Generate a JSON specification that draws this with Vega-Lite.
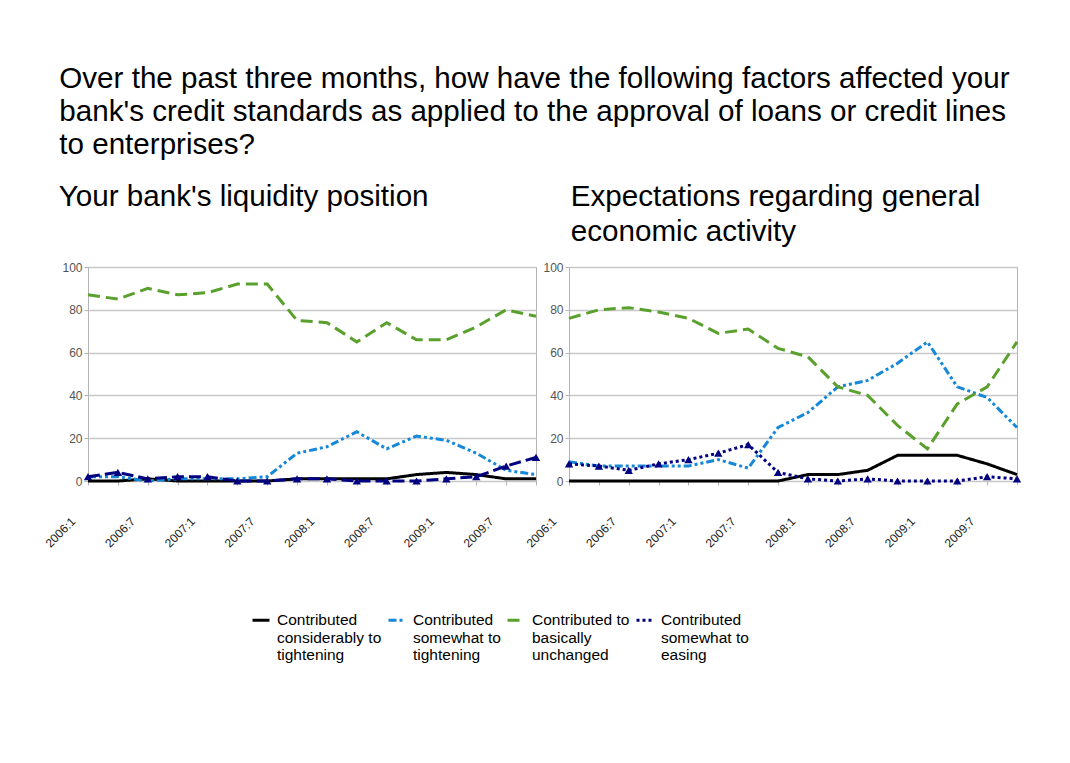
{
  "$schema": "https://vega.github.io/schema/vega-lite/v6.json",
  "background": "white",
  "padding": {"left": 42, "top": 64, "right": 30, "bottom": 20},
  "title": {
    "text": ["Over the past three months, how have the following factors affected your", "bank's credit standards as applied to the approval of loans or credit lines", "to enterprises?"],
    "anchor": "start",
    "fontSize": 29.6,
    "lineHeight": 33,
    "offset": 21,
    "dx": 17
  },
  "datasets": {
    "survey": [
      {"panel": "L", "period": "2006:1", "cons_tight": 0, "some_tight": 2, "unchanged": 87, "some_easing": 2},
      {"panel": "L", "period": "2006:4", "cons_tight": 0, "some_tight": 2, "unchanged": 85, "some_easing": 4},
      {"panel": "L", "period": "2006:7", "cons_tight": 1, "some_tight": 0, "unchanged": 90, "some_easing": 1},
      {"panel": "L", "period": "2006:10", "cons_tight": 0, "some_tight": 1, "unchanged": 87, "some_easing": 2},
      {"panel": "L", "period": "2007:1", "cons_tight": 0, "some_tight": 1, "unchanged": 88, "some_easing": 2},
      {"panel": "L", "period": "2007:4", "cons_tight": 0, "some_tight": 1, "unchanged": 92, "some_easing": 0},
      {"panel": "L", "period": "2007:7", "cons_tight": 0, "some_tight": 2, "unchanged": 92, "some_easing": 0},
      {"panel": "L", "period": "2007:10", "cons_tight": 1, "some_tight": 13, "unchanged": 75, "some_easing": 1},
      {"panel": "L", "period": "2008:1", "cons_tight": 1, "some_tight": 16, "unchanged": 74, "some_easing": 1},
      {"panel": "L", "period": "2008:4", "cons_tight": 1, "some_tight": 23, "unchanged": 65, "some_easing": 0},
      {"panel": "L", "period": "2008:7", "cons_tight": 1, "some_tight": 15, "unchanged": 74, "some_easing": 0},
      {"panel": "L", "period": "2008:10", "cons_tight": 3, "some_tight": 21, "unchanged": 66, "some_easing": 0},
      {"panel": "L", "period": "2009:1", "cons_tight": 4, "some_tight": 19, "unchanged": 66, "some_easing": 1},
      {"panel": "L", "period": "2009:4", "cons_tight": 3, "some_tight": 13, "unchanged": 72, "some_easing": 2},
      {"panel": "L", "period": "2009:7", "cons_tight": 1, "some_tight": 5, "unchanged": 80, "some_easing": 7},
      {"panel": "L", "period": "2009:10", "cons_tight": 1, "some_tight": 3, "unchanged": 77, "some_easing": 11},
      {"panel": "R", "period": "2006:1", "cons_tight": 0, "some_tight": 9, "unchanged": 76, "some_easing": 8},
      {"panel": "R", "period": "2006:4", "cons_tight": 0, "some_tight": 7, "unchanged": 80, "some_easing": 7},
      {"panel": "R", "period": "2006:7", "cons_tight": 0, "some_tight": 7, "unchanged": 81, "some_easing": 5},
      {"panel": "R", "period": "2006:10", "cons_tight": 0, "some_tight": 7, "unchanged": 79, "some_easing": 8},
      {"panel": "R", "period": "2007:1", "cons_tight": 0, "some_tight": 7, "unchanged": 76, "some_easing": 10},
      {"panel": "R", "period": "2007:4", "cons_tight": 0, "some_tight": 10, "unchanged": 69, "some_easing": 13},
      {"panel": "R", "period": "2007:7", "cons_tight": 0, "some_tight": 6, "unchanged": 71, "some_easing": 17},
      {"panel": "R", "period": "2007:10", "cons_tight": 0, "some_tight": 25, "unchanged": 62, "some_easing": 4},
      {"panel": "R", "period": "2008:1", "cons_tight": 3, "some_tight": 32, "unchanged": 58, "some_easing": 1},
      {"panel": "R", "period": "2008:4", "cons_tight": 3, "some_tight": 44, "unchanged": 44, "some_easing": 0},
      {"panel": "R", "period": "2008:7", "cons_tight": 5, "some_tight": 47, "unchanged": 40, "some_easing": 1},
      {"panel": "R", "period": "2008:10", "cons_tight": 12, "some_tight": 55, "unchanged": 26, "some_easing": 0},
      {"panel": "R", "period": "2009:1", "cons_tight": 12, "some_tight": 65, "unchanged": 15, "some_easing": 0},
      {"panel": "R", "period": "2009:4", "cons_tight": 12, "some_tight": 44, "unchanged": 36, "some_easing": 0},
      {"panel": "R", "period": "2009:7", "cons_tight": 8, "some_tight": 39, "unchanged": 44, "some_easing": 2},
      {"panel": "R", "period": "2009:10", "cons_tight": 3, "some_tight": 25, "unchanged": 65, "some_easing": 1}
    ]
  },
  "spacing": 33,
  "bounds": "flush",
  "resolve": {"scale": {"color": "shared", "strokeDash": "shared"}},
  "hconcat": [
    {
      "title": {"text": "Your bank's liquidity position", "dx": 16, "offset": 48},
      "width": 448,
      "height": 214,
      "data": {"name": "survey"},
      "transform": [
        {"filter": "datum.panel == 'L'"},
        {"fold": ["cons_tight", "some_tight", "unchanged", "some_easing"], "as": ["series", "value"]}
      ],
      "encoding": {
        "x": {"field": "period", "type": "ordinal", "sort": ["2006:1", "2006:4", "2006:7", "2006:10", "2007:1", "2007:4", "2007:7", "2007:10", "2008:1", "2008:4", "2008:7", "2008:10", "2009:1", "2009:4", "2009:7", "2009:10"], "scale": {"type": "point", "padding": 0}, "axis": {"labelExpr": "test(/:(1|7)$/, datum.value) ? datum.value : ''"}},
        "y": {"field": "value", "type": "quantitative", "scale": {"domain": [0, 100], "nice": false}},
        "color": {"field": "series", "type": "nominal", "scale": {"domain": ["cons_tight", "some_tight", "unchanged", "some_easing"], "range": ["#000000", "#1588d8", "#5aa02c", "#000080"]}}
      },
      "layer": [
        {
          "transform": [{"filter": "datum.series != 'some_easing'"}],
          "mark": {"type": "line", "strokeWidth": 3},
          "encoding": {"strokeDash": {"field": "series", "type": "nominal", "scale": {"domain": ["cons_tight", "some_tight", "unchanged", "some_easing"], "range": [[1, 0], [8, 3, 3, 3, 3, 3], [12, 6], [3, 3]]}}}
        },
        {
          "transform": [{"filter": "datum.series == 'some_easing'"}],
          "mark": {"type": "line", "strokeWidth": 3, "strokeDash": [12, 5]},
          "encoding": {}
        },
        {
          "transform": [{"filter": "datum.series == 'some_easing'"}],
          "mark": {"type": "point", "shape": "triangle-up", "filled": true, "size": 70, "opacity": 1},
          "encoding": {}
        }
      ]
    },
    {
      "title": {"text": ["Expectations regarding general", "economic activity"], "dx": 47, "offset": 13},
      "width": 448,
      "height": 214,
      "data": {"name": "survey"},
      "transform": [
        {"filter": "datum.panel == 'R'"},
        {"fold": ["cons_tight", "some_tight", "unchanged", "some_easing"], "as": ["series", "value"]}
      ],
      "encoding": {
        "x": {"field": "period", "type": "ordinal", "sort": ["2006:1", "2006:4", "2006:7", "2006:10", "2007:1", "2007:4", "2007:7", "2007:10", "2008:1", "2008:4", "2008:7", "2008:10", "2009:1", "2009:4", "2009:7", "2009:10"], "scale": {"type": "point", "padding": 0}, "axis": {"labelExpr": "test(/:(1|7)$/, datum.value) ? datum.value : ''"}},
        "y": {"field": "value", "type": "quantitative", "scale": {"domain": [0, 100], "nice": false}},
        "color": {"field": "series", "type": "nominal", "scale": {"domain": ["cons_tight", "some_tight", "unchanged", "some_easing"], "range": ["#000000", "#1588d8", "#5aa02c", "#000080"]},
          "legend": {
            "orient": "none", "legendX": 163, "legendY": 343, "direction": "horizontal", "columns": 4, "title": null, "symbolType": "stroke",
            "labelExpr": "datum.label == 'cons_tight' ? ['Contributed', 'considerably to', 'tightening'] : datum.label == 'some_tight' ? ['Contributed', 'somewhat to', 'tightening'] : datum.label == 'unchanged' ? ['Contributed to', 'basically', 'unchanged'] : ['Contributed', 'somewhat to', 'easing']"
          }
        }
      },
      "layer": [
        {
          "mark": {"type": "line", "strokeWidth": 3},
          "encoding": {"strokeDash": {"field": "series", "type": "nominal", "scale": {"domain": ["cons_tight", "some_tight", "unchanged", "some_easing"], "range": [[1, 0], [8, 3, 3, 3, 3, 3], [12, 6], [3, 3]]}}}
        },
        {
          "transform": [{"filter": "datum.series == 'some_easing'"}],
          "mark": {"type": "point", "shape": "triangle-up", "filled": true, "size": 70, "opacity": 1},
          "encoding": {}
        }
      ]
    }
  ],
  "config": {
    "font": "Liberation Sans",
    "view": {"stroke": "#b3b3b3", "strokeWidth": 1},
    "title": {"font": "Liberation Sans", "fontSize": 29.6, "fontWeight": "normal", "color": "#000000", "anchor": "start", "lineHeight": 35},
    "axisX": {"title": null, "labelAngle": -45, "labelAlign": "right", "labelBaseline": "middle", "labelPadding": 34, "labelOffset": -15, "tickSize": 4, "tickColor": "#b3b3b3", "domain": false, "grid": false, "labelFont": "Liberation Sans", "labelFontSize": 12, "labelColor": "#222222", "labelOverlap": false},
    "axisY": {"title": null, "values": [0, 20, 40, 60, 80, 100], "tickSize": 4, "tickColor": "#b3b3b3", "domain": false, "grid": true, "gridColor": "#c8c8c8", "gridWidth": 1.5, "labelFont": "Liberation Sans", "labelFontSize": 12, "labelColor": "#555555", "labelPadding": 2},
    "legend": {"labelFont": "Liberation Sans", "labelFontSize": 15.5, "labelColor": "#000000", "symbolStrokeWidth": 3, "symbolSize": 289, "labelLimit": 200, "columnPadding": 0, "labelOffset": 6}
  }
}
